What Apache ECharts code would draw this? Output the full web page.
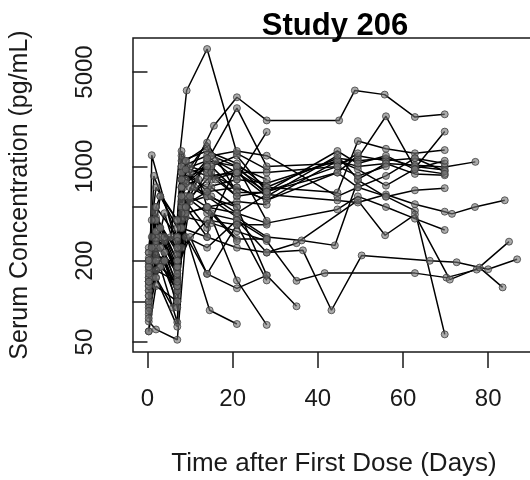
<!DOCTYPE html>
<html>
<head>
<meta charset="utf-8">
<script src="https://cdn.jsdelivr.net/npm/echarts@6/dist/echarts.min.js"></script>
<style>
  html, body { margin: 0; padding: 0; background: #fff; }
  #chart { width: 530px; height: 480px; }
</style>
</head>
<body>
<div id="chart"></div>
<script>
// Axis ticks
const xTicks = [0, 20, 40, 60, 80];
const yTicks = [50, 100, 200, 500, 1000, 2000, 5000];
const yLabels = [50, 200, 1000, 5000];

// Serum concentration profiles, one per subject: [day, pg/mL]
const s01 = [[0.3,180],[2,420],[7,230],[8.5,700],[15.6,2000],[21,3250],[28,2190],[45,2190],[48.7,3650],[55.7,3400],[62.8,2320],[69.8,2430]];
const s02 = [[0.3,150],[2,260],[5.5,300],[9.2,3650],[14,7400],[21,1250],[28,950]];
const s03 = [[0.5,200],[3,300],[7,160],[9,600],[14,1100],[21,2700],[28,1000],[44.6,1050],[49.4,1150],[56,2350],[62.8,970],[69.8,1810]];
const s04 = [[0.3,120],[2.5,200],[7,120],[8,500],[14,800],[21,950],[28,700],[44.6,640],[49.4,1540],[56,1350],[62.8,1250],[69.8,1320]];
const s05 = [[0.5,90],[1,1210],[7,250],[8,900],[14,700],[21,800],[28,750],[44.6,1100],[49.4,1000],[56,1050],[62.8,1020],[69.8,990],[77,1080]];
const s06 = [[0.3,100],[1.5,850],[7,300],[8.5,950],[14,1100],[21,1000],[28,620],[44.6,560],[49.4,540],[56,620],[62.8,525],[69.8,462],[71.5,445],[76.9,500],[83.9,561]];
const s07 = [[0.5,160],[1.7,460],[7,200],[10,600],[14,500],[21,450],[28,380],[44.6,480],[49.4,600],[56,500],[62.8,410],[69.8,338]];
const s08 = [[0.3,130],[4,200],[7,110],[8,500],[14,650],[21,700],[28,560],[44.6,900],[49.4,700],[56,600],[62.8,470],[69.8,57]];
const s09 = [[0.3,80],[2,150],[6,90],[8,350],[14,300],[21,250],[28,230],[36.5,239],[43.2,86],[50.3,219],[66.3,200],[72.6,195],[80,173],[86.8,205]];
const s10 = [[0.3,110],[3,180],[7,140],[9,420],[15,380],[21,330],[28,280],[35,142],[41.6,162],[62.8,162],[70.2,150],[77.3,172],[84.9,277]];
const s11 = [[0.3,60],[2,130],[7,100],[9,600],[14,450],[21,400],[28,230],[35,270],[49.4,560],[55.8,309],[62.8,440],[71,145],[78,178],[83.4,127]];
const s12 = [[0.3,140],[4,230],[7,130],[10,550],[14,600],[21,420],[28,300],[36.2,283],[44,260],[49.4,790],[56,595],[62.8,665],[69.8,690]];
const s13 = [[0.3,140],[2,500],[7,300],[8,1000],[14,1200],[21,800],[28,1800]];
const s14 = [[0.3,200],[3,250],[7,120],[8,400],[14.6,86],[21,68]];
const s15 = [[0.5,170],[2,240],[7,130],[9,450],[14,500],[21,143],[28,67]];
const s16 = [[0.3,230],[4,280],[7,170],[8,350],[14,160],[21,370],[28,370]];
const s17 = [[0.3,190],[2,330],[7,180],[10,700],[14,600],[21,500],[28,156],[35,92]];
const s18 = [[0.3,71],[2,62],[7,52],[9,300],[14,250],[21,400],[28,290]];
const s19 = [[0.3,170],[3,600],[7,350],[8,1100],[14,1300],[21,1050],[28,700],[44.6,1150],[49.4,1100],[56,1150],[62.8,1000],[69.8,940]];
const s20 = [[0.3,250],[2,700],[7,400],[8,800],[15,1000],[21,1200],[28,650],[44.6,900],[49.4,1200],[56,1100],[62.8,1150],[69.8,1050]];
const s21 = [[0.3,60],[2,250],[7,100],[9,500],[14,900],[21,700],[28,560],[44.6,1100],[49.4,950],[56,720],[62.8,960],[69.8,1100]];
const s22 = [[0.3,140],[4,450],[7,220],[8,1000],[14,850],[21,900],[28,600],[44.6,1200],[49.4,800],[56,1050],[62.8,880],[69.8,860]];
const s23 = [[0.3,95],[3,300],[7,170],[8,700],[15,1200],[21,1300],[28,1200],[44.6,600],[49.4,700],[56,850],[62.8,1150],[69.8,920]];
const s24 = [[0.3,200],[2,220],[7,180],[10,300],[14,160],[21,125],[28,156]];
const s25 = [[0.3,120],[3,180],[7,70],[8,250],[14,400],[21,370],[28,143]];
const s26 = [[0.3,230],[2,300],[7,300],[9,450],[14,500],[21,290],[28,290]];
const s27 = [[0.3,100],[2,400],[7,150],[8,600],[14,350],[21,1000],[28,395]];
const s28 = [[0.3,150],[1,300],[2,400],[3,350],[7,200],[8,900],[9,800],[14,600],[15,700],[21,500]];
const s29 = [[0.3,90],[1,200],[2,260],[4,230],[7,130],[8,1200],[10,1000],[14,900],[15,1000],[21,650]];
const s30 = [[0.3,210],[1,400],[2,500],[3,600],[7,400],[8,1300],[9,1100],[14,1400],[15,1200],[21,1000],[28,800]];
const s31 = [[0.3,75],[1,150],[3,180],[4,200],[7,90],[8,700],[9,500],[14,300],[15,450],[21,280]];
const s32 = [[0.3,180],[2,280],[3,250],[7,160],[8,550],[9,750],[14,1000],[15,800],[21,900],[28,900],[44.6,1000],[49.4,1250]];
const s33 = [[0.3,130],[2,330],[7,280],[8,450],[10,600],[14,1150],[15,900],[21,600],[28,650],[44.6,1300],[49.4,1050],[56,1200],[62.8,950],[69.8,880]];
const s34 = [[0.3,202],[2,150],[7,65],[8,800],[14,1500],[21,640],[28,640]];
const s35 = [[0.3,110],[2,170],[7,140],[8,600],[10,900],[14,1000],[16,800],[21,600]];
const s36 = [[0.3,160],[3,350],[7,250],[9,1100],[11,700],[15,600],[21,450],[28,620]];
const s37 = [[0.3,85],[1,250],[4,300],[7,180],[9,950],[14,650],[16,1100],[21,900],[28,650],[44.6,1000],[49.4,850],[56,1000]];
const s38 = [[0.3,140],[2,200],[7,200],[8,700],[12,800],[14,500],[21,550],[28,520]];

const subjects = [s01, s02, s03, s04, s05, s06, s07, s08, s09, s10, s11, s12, s13, s14, s15, s16, s17, s18, s19,
                  s20, s21, s22, s23, s24, s25, s26, s27, s28, s29, s30, s31, s32, s33, s34, s35, s36, s37, s38];

const FONT = '"Liberation Sans", Arial, Helvetica, sans-serif';
const INK = '#1a1a1a';

const chart = echarts.init(document.getElementById('chart'), null, { renderer: 'canvas' });

chart.setOption({
  animation: false,
  backgroundColor: '#fff',
  title: {
    text: 'Study 206',
    left: 330,
    top: 6,
    textAlign: 'center',
    textStyle: { fontFamily: FONT, fontWeight: 'bold', fontSize: 31, color: '#000' }
  },
  grid: {
    left: 133, top: 38, width: 402, height: 314,
    show: true, borderColor: INK, borderWidth: 1.5, backgroundColor: 'transparent',
    outerBoundsMode: 'none'
  },
  xAxis: {
    type: 'value',
    min: -3.4, max: 91,
    name: 'Time after First Dose (Days)',
    nameLocation: 'middle',
    nameGap: 99,
    nameTextStyle: { fontFamily: FONT, fontSize: 26, color: INK },
    axisLine: { show: false },
    splitLine: { show: false },
    axisTick: { show: true, length: 16, customValues: xTicks, lineStyle: { color: INK, width: 1.5 } },
    axisLabel: { customValues: xTicks, margin: 35, fontFamily: FONT, fontSize: 24, color: INK,
                 formatter: v => String(v) }
  },
  yAxis: {
    type: 'log',
    logBase: 10,
    min: 42.2, max: 8930,
    name: 'Serum Concentration (pg/mL)',
    nameLocation: 'middle',
    nameGap: 100,
    nameTextStyle: { fontFamily: FONT, fontSize: 25, color: INK },
    axisLine: { show: false },
    splitLine: { show: false },
    axisTick: { show: true, length: 15, customValues: yTicks, lineStyle: { color: INK, width: 1.5 } },
    axisLabel: { customValues: yLabels, rotate: 90, margin: 36, fontFamily: FONT, fontSize: 24, color: INK,
                 formatter: v => String(Math.round(v)) }
  },
  series: subjects.map((s, i) => ({
    type: 'line',
    name: 'subject ' + (i + 1),
    data: s,
    silent: true,
    symbol: 'circle',
    symbolSize: 7,
    showSymbol: true,
    lineStyle: { color: '#000', width: 1.5 },
    itemStyle: { color: 'rgba(115,115,115,0.6)', borderColor: 'rgba(55,55,55,0.75)', borderWidth: 1 },
    emphasis: { disabled: true }
  }))
});
</script>
</body>
</html>
